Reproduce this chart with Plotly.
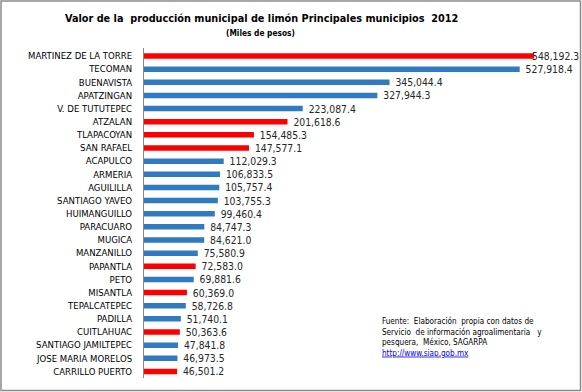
import plotly.graph_objects as go

municipios = ["MARTINEZ DE LA TORRE", "TECOMAN", "BUENAVISTA", "APATZINGAN", "V. DE TUTUTEPEC",
              "ATZALAN", "TLAPACOYAN", "SAN RAFAEL", "ACAPULCO", "ARMERIA", "AGUILILLA",
              "SANTIAGO YAVEO", "HUIMANGUILLO", "PARACUARO", "MUGICA", "MANZANILLO", "PAPANTLA",
              "PETO", "MISANTLA", "TEPALCATEPEC", "PADILLA", "CUITLAHUAC", "SANTIAGO JAMILTEPEC",
              "JOSE MARIA MORELOS", "CARRILLO PUERTO"]
valores = [548192.3, 527918.4, 345044.4, 327944.3, 223087.4, 201618.6, 154485.3, 147577.1,
           112029.3, 106833.5, 105757.4, 103755.3, 99460.4, 84747.3, 84621.0, 75580.9, 72583.0,
           69881.6, 60369.0, 58726.8, 51740.1, 50363.6, 47841.8, 46973.5, 46501.2]
veracruz = {"MARTINEZ DE LA TORRE", "ATZALAN", "TLAPACOYAN", "SAN RAFAEL", "PAPANTLA",
            "MISANTLA", "CUITLAHUAC", "CARRILLO PUERTO"}

RED = "#FF0000"
BLUE = "#2F7AC0"
colors = [RED if m in veracruz else BLUE for m in municipios]
labels = [f"{v:,.1f}" for v in valores]
# the largest label overlaps its bar end (as in the reference) -> drawn as annotation
bar_text = [""] + ["\u00a0\u00a0" + t for t in labels[1:]]

NARROW = "DejaVu Sans Condensed, Liberation Sans Narrow"
W, H = 582, 392
ML, MR, MT, MB = 144, 11, 48, 14

fig = go.Figure(go.Bar(
    y=municipios, x=valores, orientation="h",
    marker=dict(color=colors, line=dict(width=0)),
    width=0.42,
    text=bar_text, textposition="outside", cliponaxis=False, constraintext="none",
    textfont=dict(family=NARROW, size=10.3, color="#262626"),
    hoverinfo="skip",
))

pw = W - ML - MR
ph = H - MT - MB
fig.update_layout(
    width=W, height=H,
    margin=dict(l=ML, r=MR, t=MT, b=MB, autoexpand=False),
    paper_bgcolor="white", plot_bgcolor="white",
    showlegend=False,
    xaxis=dict(range=[0, 600000], visible=False, showgrid=False, zeroline=False, automargin=False),
    yaxis=dict(autorange="reversed", showgrid=False, showline=True, linecolor="#888888", linewidth=1,
               ticks="", ticklabelstandoff=9, automargin=False,
               tickfont=dict(family=NARROW, size=9.5, color="#000000")),
    font=dict(family=NARROW),
    annotations=[
        dict(text="<b>Valor de la  producción municipal de limón Principales municipios  2012</b>",
             xref="paper", yref="paper", x=(261 - ML) / pw, y=(H - MB - 18) / ph, xanchor="center", yanchor="middle",
             showarrow=False, font=dict(family=NARROW, size=10.8, color="#000000")),
        dict(text="<b>(Miles de pesos)</b>",
             xref="paper", yref="paper", x=(260 - ML) / pw, y=(H - MB - 33) / ph, xanchor="center", yanchor="middle",
             showarrow=False, font=dict(family=NARROW, size=8.3, color="#000000")),
        dict(text=labels[0], x=valores[0], y=municipios[0], xref="x", yref="y",
             xanchor="left", yanchor="middle", xshift=-4, showarrow=False,
             font=dict(family=NARROW, size=10.3, color="#262626")),
        dict(text="Fuente:  Elaboración  propia con datos de<br>Servicio  de información agroalimentaria   y<br>pesquera,  México, SAGARPA<br><span style='color:#0000EE'><u>http://www.siap.gob.mx</u></span>",
             xref="paper", yref="paper", x=(381 - ML) / pw, y=(H - MB - 315) / ph, xanchor="left", yanchor="top",
             align="left", showarrow=False, borderpad=0,
             font=dict(family=NARROW, size=8.1, color="#000000")),
    ],
    shapes=[dict(type="rect", xref="paper", yref="paper",
                 x0=-(ML - 1) / pw, x1=1 + (MR - 1.5) / pw, y0=-(MB - 1.5) / ph, y1=1 + (MT - 1) / ph,
                 line=dict(color="#8C8C8C", width=1.5), fillcolor="rgba(0,0,0,0)")],
)

fig.write_html("out.html", config={"displayModeBar": False},
               post_script="document.body.style.margin='0';")
